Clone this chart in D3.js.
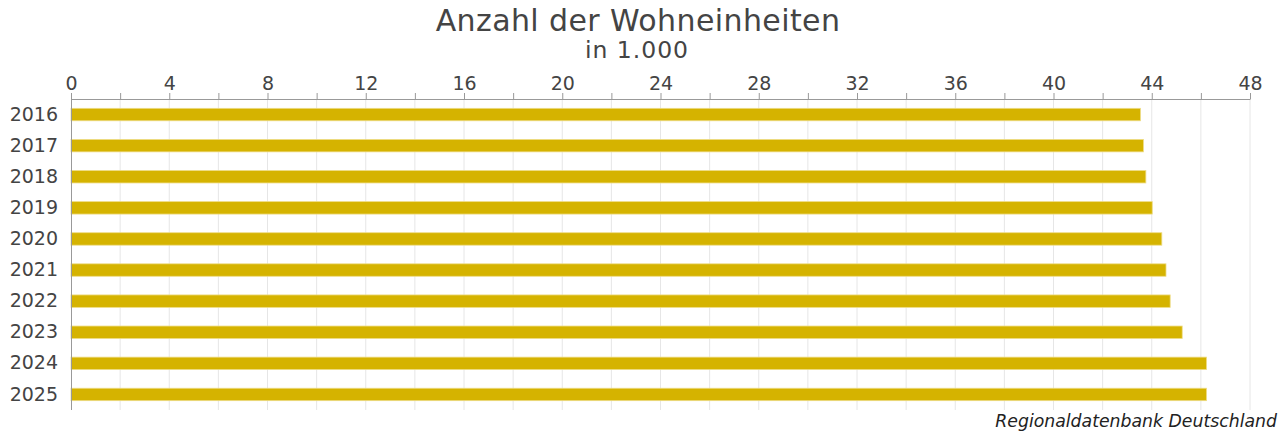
<!DOCTYPE html>
<html>
<head>
<meta charset="utf-8">
<script src="https://cdn.jsdelivr.net/npm/d3@7"></script>
<style>
  body { margin: 0; background: #fff; }
  svg text { font-family: "DejaVu Sans", sans-serif; }
</style>
</head>
<body>
<div id="chart"></div>
<script>
// Daten
var years = ["2016", "2017", "2018", "2019", "2020", "2021", "2022", "2023", "2024", "2025"];
var values = [43.54, 43.66, 43.76, 44.02, 44.41, 44.58, 44.75, 45.24, 46.23, 46.23];
var xTicks = [0, 4, 8, 12, 16, 20, 24, 28, 32, 36, 40, 44, 48];

var width = 1287, height = 436;
var margin = {top: 99, right: 37, bottom: 26, left: 71};

var svg = d3.select("#chart").append("svg")
    .attr("width", width)
    .attr("height", height);

var x = d3.scaleLinear().domain([0, 48]).range([0, 1179]);
var y = d3.scaleBand().domain(years).range([0, 311]).paddingInner(0.6).paddingOuter(0.3);

var g = svg.append("g")
    .attr("transform", "translate(" + margin.left + "," + margin.top + ")");

// Gitternetz alle 2 Einheiten
g.append("g").selectAll("line")
    .data(d3.range(2, 49, 2))
    .enter().append("line")
    .attr("x1", function(d){ return x(d); })
    .attr("x2", function(d){ return x(d); })
    .attr("y1", 0)
    .attr("y2", 311)
    .attr("stroke", "#e6e6e6")
    .attr("stroke-width", 1);

// Balken
g.append("g").selectAll("rect")
    .data(values)
    .enter().append("rect")
    .attr("x", x(0))
    .attr("y", function(d, i){ return y(years[i]); })
    .attr("width", function(d){ return x(d) - x(0); })
    .attr("height", y.bandwidth())
    .attr("fill", "#d5b300")
    .attr("stroke", "#eedc85")
    .attr("stroke-width", 0.8);

// obere Achse
var xAxis = d3.axisTop(x)
    .tickValues(d3.range(0, 49, 2))
    .tickSize(6)
    .tickPadding(3)
    .tickFormat(function(d){ return xTicks.indexOf(d) >= 0 ? d : ""; });

var ax = g.append("g").attr("class", "x-axis").call(xAxis);
ax.select(".domain").attr("stroke", "#999").attr("d", "M0.5,0.5H" + (x(48) + 0.5));
ax.selectAll(".tick line").attr("stroke", "#999");
ax.selectAll(".tick text")
    .attr("fill", "#444")
    .attr("font-size", 19)
    .attr("font-family", "DejaVu Sans, sans-serif");

// linke Achse
var yAxis = d3.axisLeft(y).tickSize(0).tickPadding(13);
var ay = g.append("g").attr("class", "y-axis").call(yAxis);
ay.select(".domain").attr("stroke", "#999").attr("d", "M0.5,0V311");
ay.selectAll(".tick text")
    .attr("fill", "#444")
    .attr("font-size", 19)
    .attr("font-family", "DejaVu Sans, sans-serif");

// Titel
svg.append("text")
    .attr("x", 638)
    .attr("y", 31)
    .attr("text-anchor", "middle")
    .attr("font-size", 30)
    .attr("letter-spacing", 0.4)
    .attr("fill", "#444")
    .text("Anzahl der Wohneinheiten");

svg.append("text")
    .attr("x", 637)
    .attr("y", 58)
    .attr("text-anchor", "middle")
    .attr("font-size", 23.5)
    .attr("letter-spacing", 1)
    .attr("fill", "#444")
    .text("in 1.000");

// Quelle
svg.append("text")
    .attr("x", 1277)
    .attr("y", 427)
    .attr("text-anchor", "end")
    .attr("font-size", 17.3)
    .attr("font-style", "italic")
    .attr("fill", "#222")
    .text("Regionaldatenbank Deutschland");
</script>
</body>
</html>
